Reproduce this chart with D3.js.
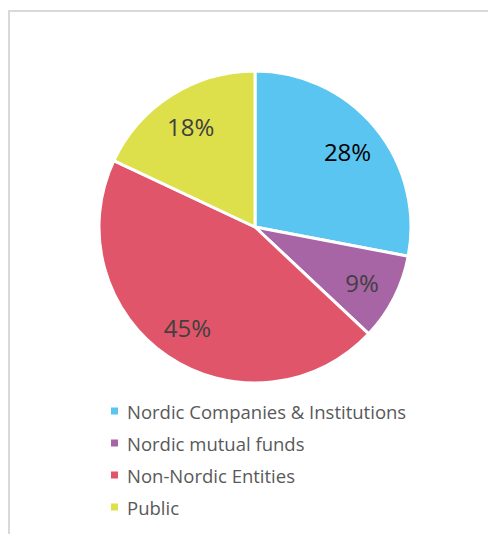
<!DOCTYPE html>
<html>
<head>
<meta charset="utf-8">
<script src="https://cdn.jsdelivr.net/npm/d3@7"></script>
<style>
  body { margin: 0; background: #fff; }
  svg { display: block; font-family: "Open Sans", sans-serif; }
</style>
</head>
<body>
<svg id="chart"></svg>
<script>
const categories = ["Nordic Companies & Institutions", "Nordic mutual funds", "Non-Nordic Entities", "Public"]
const values = [28, 9, 45, 18]
const colors = ["#5bc5f1", "#a865a6", "#e05569", "#dddf4b"]
const labelColors = ["#000000", "#404040", "#404040", "#404040"]

const width = 488
const height = 534

let svg = d3.select("#chart")
  .attr("width", width)
  .attr("height", height)

// chart area frame (only top and left edges fall inside the picture)
svg.append("rect")
  .attr("x", 9)
  .attr("y", 11)
  .attr("width", 600)
  .attr("height", 600)
  .attr("fill", "none")
  .attr("stroke", "#d9d9d9")
  .attr("stroke-width", 2)

const cx = 255, cy = 227, radius = 156

const pie = d3.pie().sort(null).value(d => d)
const arc = d3.arc().innerRadius(0).outerRadius(radius)
const labelArc = d3.arc().innerRadius(radius * 0.77).outerRadius(radius * 0.77)

let pieG = svg.append("g")
  .attr("transform", "translate(" + cx + "," + cy + ")")

const arcs = pie(values)

pieG.selectAll("path")
  .data(arcs)
  .join("path")
  .attr("d", arc)
  .attr("fill", (d, i) => colors[i])
  .attr("stroke", "#ffffff")
  .attr("stroke-width", 3)
  .attr("stroke-linejoin", "round")

pieG.selectAll("text")
  .data(arcs)
  .join("text")
  .attr("x", d => labelArc.centroid(d)[0])
  .attr("y", d => labelArc.centroid(d)[1] + 1)
  .attr("text-anchor", "middle")
  .attr("dominant-baseline", "central")
  .attr("font-size", 24)
  .attr("fill", (d, i) => labelColors[i])
  .text(d => d.data + "%")

// legend
let legend = svg.append("g")
  .attr("transform", "translate(111, 411)")

categories.forEach((c, i) => {
  let row = legend.append("g")
    .attr("transform", "translate(0," + (i * 32) + ")")
  row.append("rect")
    .attr("x", 0)
    .attr("y", -3.5)
    .attr("width", 7)
    .attr("height", 7)
    .attr("fill", colors[i])
  row.append("text")
    .attr("x", 16)
    .attr("y", 0)
    .attr("dominant-baseline", "central")
    .attr("font-size", 18.5)
    .attr("fill", "#595959")
    .text(c)
})
</script>
</body>
</html>
